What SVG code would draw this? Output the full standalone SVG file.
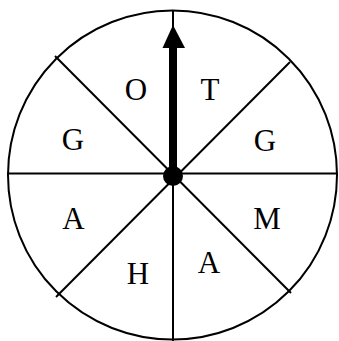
<svg xmlns="http://www.w3.org/2000/svg" width="339" height="341" viewBox="0 0 339 341">
<style>
.ln{stroke:#000;stroke-width:2;fill:none}
.lb{font-family:"Liberation Serif","Times New Roman",serif;font-size:31px;fill:#000;text-anchor:middle}
</style>
<rect width="339" height="341" fill="#fff"/>
<g id="wheel">
<circle class="ln" cx="172.5" cy="175" r="164.5"/>
</g>
<g id="connectors">
<line class="ln" x1="7" y1="173.5" x2="338" y2="173.5"/>
<line class="ln" x1="173" y1="175" x2="173" y2="341"/>
<line class="ln" x1="55" y1="56" x2="291" y2="293"/>
<line class="ln" x1="290" y1="62" x2="56" y2="297"/>
<line class="ln" x1="173" y1="10" x2="173" y2="30"/>
<line x1="173" y1="175" x2="173" y2="46" stroke="#000" stroke-width="8"/>
<polygon points="173,25 162.5,48 185,48" fill="#000"/>
<circle cx="173" cy="176" r="10" fill="#000"/>
</g>
<g id="label-O"><text class="lb" x="136" y="100">O</text></g>
<g id="label-T"><text class="lb" x="210" y="100">T</text></g>
<g id="label-G1"><text class="lb" x="73" y="150">G</text></g>
<g id="label-G2"><text class="lb" x="265" y="151">G</text></g>
<g id="label-A1"><text class="lb" x="73.5" y="229">A</text></g>
<g id="label-M"><text class="lb" x="267" y="229">M</text></g>
<g id="label-H"><text class="lb" x="138" y="284">H</text></g>
<g id="label-A2"><text class="lb" x="209" y="273">A</text></g>
</svg>
